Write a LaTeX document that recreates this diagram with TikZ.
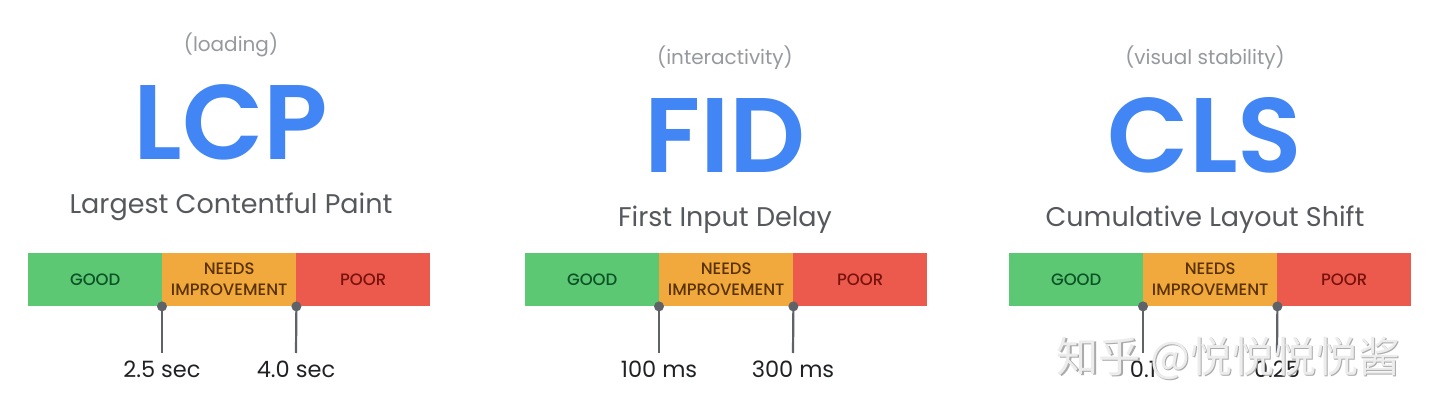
\documentclass[tikz,border=0pt]{standalone}
\usepackage{fontspec}
\setmainfont{Poppins}
\newfontfamily\titlefont{Poppins SemiBold}
\newfontfamily\segfont{Poppins Medium}
\newfontfamily\cjk{Noto Sans CJK SC}
\definecolor{gblue}{RGB}{66,133,244}
\definecolor{ggreen}{RGB}{92,200,116}
\definecolor{gorange}{RGB}{241,168,60}
\definecolor{gred}{RGB}{235,90,77}
\definecolor{tgood}{RGB}{13,82,38}
\definecolor{tneeds}{RGB}{90,50,0}
\definecolor{tpoor}{RGB}{120,18,12}
\definecolor{subgray}{RGB}{85,88,92}
\definecolor{pargray}{RGB}{150,153,158}
\definecolor{tickgray}{RGB}{95,99,104}
\definecolor{ink}{RGB}{32,33,36}
\definecolor{wmfill}{RGB}{236,236,236}
\definecolor{wmshade}{RGB}{170,170,170}
\tikzset{
  segbox/.style={inner sep=0pt, minimum width=134pt, minimum height=53pt, anchor=north west, align=center, font=\segfont\fontsize{16.5}{21}\selectfont},
  bigtitle/.style={anchor=base, text=gblue, font=\titlefont\fontsize{106}{110}\selectfont},
  paren/.style={anchor=base, text=pargray, font=\fontsize{20}{24}\selectfont},
  subtitle/.style={anchor=base, text=subgray, font=\fontsize{27}{30}\selectfont},
  ticklabel/.style={anchor=base, text=ink, font=\fontsize{22.5}{26}\selectfont},
  tickdot/.style={circle, fill=tickgray, inner sep=0pt, minimum size=10pt},
  tickline/.style={draw=tickgray, line width=2.2pt},
}
\newcommand\metricpanel[9]{%
  % #1 prefix, #2 left x, #3 first tick label, #4 second tick label,
  % #5 paren text, #6 big title, #7 subtitle, #8 title dy, #9 center x
  \node[paren] (#1-par) at (#9, 65+#8) {#5};
  \node[bigtitle] (#1-big) at (#9, 172+#8) {#6};
  \node[subtitle] (#1-sub) at (#9, 226+#8) {#7};
  \node[segbox, fill=ggreen, text=tgood] (#1-good) at (#2, 253) {GOOD};
  \node[segbox, fill=gorange, text=tneeds] (#1-needs) at (#2+134, 253) {NEEDS\\IMPROVEMENT};
  \node[segbox, fill=gred, text=tpoor] (#1-poor) at (#2+268, 253) {POOR};
  \coordinate (#1-e1) at (#2+134, 353);
  \coordinate (#1-e2) at (#2+268, 353);
  \draw[tickline] (#1-needs.south west) -- (#1-e1);
  \draw[tickline] (#1-needs.south east) -- (#1-e2);
  \node[tickdot] (#1-d1) at (#1-needs.south west) {};
  \node[tickdot] (#1-d2) at (#1-needs.south east) {};
  \node[ticklabel] (#1-l1) at (#2+134, 377) {#3};
  \node[ticklabel] (#1-l2) at (#2+268, 377) {#4};
}
\begin{document}
\begin{tikzpicture}[x=1pt,y=-1pt]
\useasboundingbox (0,0) rectangle (1440,417);
\fill[white] (0,0) rectangle (1440,417);
\metricpanel{lcp}{28}{2.5 sec}{4.0 sec}{(loading)}{LCP}{Largest Contentful Paint}{-13}{231}
\metricpanel{fid}{525}{100 ms}{300 ms}{(interactivity)}{FID}{First Input Delay}{0}{725}
\metricpanel{cls}{1009}{0.1}{0.25}{(visual stability)}{CLS}{Cumulative Layout Shift}{0}{1205}
\node[text=wmshade, font=\cjk\fontsize{42}{42}\selectfont] (wmb) at (1230,359.5) {知乎 @悦悦悦悦酱};
\node[text=wmfill, font=\cjk\fontsize{42}{42}\selectfont] (wm) at (1228.5,358) {知乎 @悦悦悦悦酱};
\end{tikzpicture}
\end{document}
